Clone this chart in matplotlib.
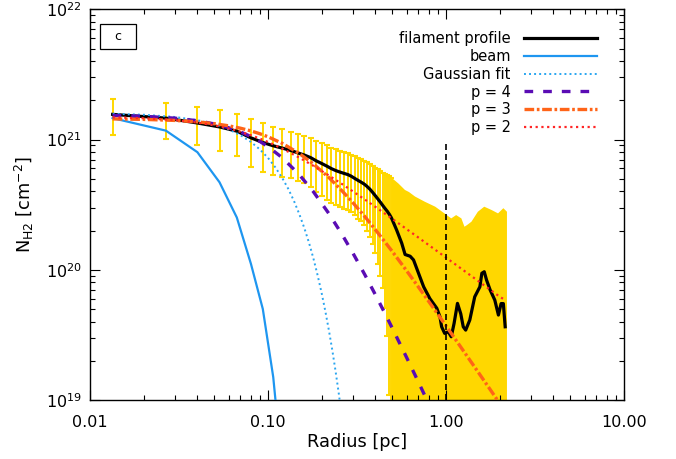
import matplotlib
matplotlib.use('Agg')
import matplotlib.pyplot as plt
import numpy as np
from matplotlib.ticker import FixedLocator, FixedFormatter, NullFormatter, LogLocator
from matplotlib.patches import Rectangle

plt.rcParams['font.family'] = ['DejaVu Sans']
plt.rcParams['mathtext.fontset'] = 'dejavusans'

E21 = 1e21
E20 = 1e20

# ---- filament profile (radius [pc], N_H2 in 1e21 cm^-2) ----
prof_r = [0.0134, 0.0267, 0.0401, 0.0534, 0.0668, 0.0802, 0.0935, 0.107, 0.120, 0.134,
          0.147, 0.160, 0.174, 0.187, 0.200, 0.214, 0.227, 0.240, 0.254, 0.267,
          0.281, 0.294, 0.307, 0.321, 0.334, 0.347, 0.361, 0.374, 0.387, 0.401,
          0.414, 0.428, 0.441, 0.454, 0.468, 0.481, 0.494,
          0.528, 0.564, 0.589, 0.629, 0.657, 0.701, 0.749, 0.812, 0.888,
          0.925, 0.945, 0.983, 1.03, 1.07, 1.11, 1.16, 1.21, 1.25, 1.29,
          1.36, 1.45, 1.55, 1.59, 1.64, 1.69, 1.77, 1.88, 1.97, 2.04, 2.10, 2.15]
prof_n = [1.56, 1.46, 1.34, 1.25, 1.16, 1.03, 0.95, 0.895, 0.86, 0.825,
          0.79, 0.76, 0.725, 0.685, 0.655, 0.625, 0.598, 0.578, 0.562, 0.550,
          0.538, 0.522, 0.503, 0.485, 0.470, 0.455, 0.435, 0.415, 0.393, 0.370,
          0.350, 0.330, 0.312, 0.296, 0.281, 0.266, 0.250,
          0.202, 0.160, 0.131, 0.127, 0.119, 0.094, 0.074, 0.060, 0.0506,
          0.0435, 0.0365, 0.0325, 0.0334, 0.0306, 0.0387, 0.0552, 0.046, 0.0365, 0.0344,
          0.0411, 0.062, 0.074, 0.094, 0.0966, 0.0834, 0.070, 0.0585, 0.0449, 0.055, 0.055, 0.0365]

# error bars (1 sigma, 1e21 cm^-2) at the first 37 profile radii
bar_sigma = [0.48, 0.45, 0.43, 0.43, 0.41, 0.41, 0.39, 0.36, 0.34, 0.32,
             0.31, 0.30, 0.295, 0.29, 0.285, 0.28, 0.27, 0.265, 0.26, 0.255,
             0.25, 0.245, 0.24, 0.24, 0.235, 0.235, 0.235, 0.235, 0.235, 0.235,
             0.24, 0.24, 0.24, 0.245, 0.25, 0.255, 0.26]

# upper envelope of the dense error bars beyond 0.5 pc (1e20 cm^-2)
band_r = [0.494, 0.54, 0.588, 0.62, 0.67, 0.76, 0.87, 0.98, 1.07, 1.14,
          1.22, 1.27, 1.31, 1.39, 1.51, 1.64, 1.80, 1.96, 2.10, 2.20]
band_hi = [5.1, 4.6, 4.1, 3.95, 3.65, 3.33, 3.05, 2.71, 2.48, 2.63,
           2.48, 2.14, 2.2, 2.34, 2.79, 3.05, 2.88, 2.71, 2.97, 2.79]

# beam (1e21)
beam_r = [0.0134, 0.0267, 0.0401, 0.0534, 0.0668, 0.0802, 0.0935, 0.107, 0.120]
beam_n = [1.46, 1.17, 0.80, 0.47, 0.252, 0.111, 0.050, 0.015, 0.003]

# model curves (1e21)
mod_r = [0.0134, 0.02, 0.03, 0.04, 0.05, 0.06, 0.07, 0.08, 0.09, 0.10,
         0.12, 0.15, 0.18, 0.22, 0.26, 0.30, 0.35, 0.40, 0.45, 0.50,
         0.60, 0.70, 0.80, 0.90, 1.00, 1.20, 1.50, 1.80, 2.00, 2.15]
gauss_r = [0.0134, 0.02, 0.03, 0.04, 0.05, 0.06, 0.07, 0.08, 0.09, 0.10,
           0.11, 0.12, 0.13, 0.14, 0.15, 0.16, 0.17, 0.18, 0.19, 0.20,
           0.21, 0.22, 0.23, 0.24, 0.25, 0.26]
gauss_n = [1.577, 1.55, 1.49, 1.41, 1.31, 1.20, 1.08, 0.96, 0.84, 0.723,
           0.611, 0.509, 0.418, 0.337, 0.267, 0.209, 0.161, 0.122, 0.0907, 0.0666,
           0.048, 0.0341, 0.0239, 0.01643, 0.01114, 0.00742]
p4_n = [1.531, 1.508, 1.459, 1.394, 1.318, 1.233, 1.145, 1.055, 0.967, 0.882,
        0.727, 0.537, 0.397, 0.2696, 0.1876, 0.1342, 0.0916, 0.0648, 0.0473, 0.03545,
        0.02128, 0.01373, 0.00933]
p3_n = [1.44, 1.428, 1.402, 1.367, 1.324, 1.275, 1.222, 1.166, 1.108, 1.05,
        0.936, 0.781, 0.649, 0.51, 0.405, 0.327, 0.256, 0.204, 0.166, 0.1378,
        0.0985, 0.0737, 0.0571, 0.0455, 0.0371, 0.02595, 0.01672, 0.01165, 0.00945, 0.0082]
p2_n = [1.48, 1.458, 1.41, 1.35, 1.285, 1.216, 1.147, 1.08, 1.017, 0.958,
        0.853, 0.726, 0.628, 0.529, 0.456, 0.40, 0.346, 0.305, 0.272, 0.2456,
        0.2055, 0.1767, 0.1548, 0.1377, 0.124, 0.1035, 0.0829, 0.0691, 0.0622, 0.0585]

vline_r = 1.0
vline_n = [1e19, 1e21]

x_ticks = [0.01, 0.1, 1.0, 10.0]
x_labels = ['0.01', '0.10', '1.00', '10.00']
legend_labels = ['filament profile', 'beam', 'Gaussian fit', 'p = 4', 'p = 3', 'p = 2']

gold = '#ffd700'
c_beam = '#1e96f0'
c_gauss = '#2aa6f0'
c_p4 = '#5a0cb4'
c_p3 = '#ff6418'
c_p2 = '#ff2626'

fig = plt.figure(figsize=(6.76, 4.59), dpi=100)
ax = fig.add_axes([90/676, 1-400/459, 534/676, 390.7/459])
ax.set_xscale('log')
ax.set_yscale('log')
ax.set_xlim(0.01, 10.0)
ax.set_ylim(1e19, 1e22)

nb = len(bar_sigma)
bar_r = np.array(prof_r[:nb])
bar_n = np.array(prof_n[:nb]) * E21
sig = np.array(bar_sigma) * E21
lo = np.minimum(sig, bar_n - 1e17)
ax.errorbar(bar_r, bar_n, yerr=[lo, sig], fmt='none', ecolor=gold,
            elinewidth=1.4, capsize=2.2, capthick=1.5, zorder=1)
ax.fill_between(band_r, 1e17, np.array(band_hi) * E20, color=gold, lw=0, zorder=1)

h1, = ax.plot(prof_r, np.array(prof_n) * E21, color='black', lw=2.3, zorder=3)
h2, = ax.plot(beam_r, np.array(beam_n) * E21, color=c_beam, lw=1.6, zorder=4)
h3, = ax.plot(gauss_r, np.array(gauss_n) * E21, color=c_gauss, lw=1.4,
              ls=(0, (1, 1.6)), zorder=4)
h4, = ax.plot(mod_r[:len(p4_n)], np.array(p4_n) * E21, color=c_p4, lw=2.4,
              ls=(0, (2.6, 3.0)), zorder=5)
h5, = ax.plot(mod_r[:len(p3_n)], np.array(p3_n) * E21, color=c_p3, lw=2.4,
              ls=(0, (2.9, 0.8, 0.8, 0.8)), zorder=6)
h6, = ax.plot(mod_r[:len(p2_n)], np.array(p2_n) * E21, color=c_p2, lw=1.6,
              ls=(0, (1, 1.6)), zorder=7)
ax.plot([vline_r, vline_r], vline_n, color='black', lw=1.2, ls=(0, (3.6, 2.4)), zorder=8)

# axes styling
for s in ax.spines.values():
    s.set_linewidth(1.0)
ax.xaxis.set_major_locator(FixedLocator(x_ticks))
ax.xaxis.set_major_formatter(FixedFormatter(x_labels))
ax.xaxis.set_minor_locator(LogLocator(base=10, subs=np.arange(2, 10)))
ax.xaxis.set_minor_formatter(NullFormatter())
ax.yaxis.set_minor_locator(LogLocator(base=10, subs=np.arange(2, 10)))
ax.yaxis.set_minor_formatter(NullFormatter())
ax.tick_params(which='both', direction='in', top=True, right=True, width=0.8)
ax.tick_params(which='major', length=7.2, labelsize=11.5, pad=6)
ax.tick_params(which='minor', length=3.6)
ax.tick_params(axis='x', which='major', pad=11)

ax.set_xlabel('Radius [pc]', fontsize=12.8)
ax.set_ylabel(r'N$_{\rm H2}$ [cm$^{-2}$]', fontsize=12.8)
ax.xaxis.set_label_coords(0.5, -0.085)
ax.yaxis.set_label_coords(-0.102, 0.5)

# panel label box
ax.add_patch(Rectangle((0.0187, 0.8976), 0.0669, 0.064, transform=ax.transAxes,
                       fill=False, ec='black', lw=0.9, zorder=9))
ax.text(0.0521, 0.9296, 'c', transform=ax.transAxes, ha='center', va='center',
        fontsize=9, zorder=9)

leg = ax.legend([h1, h2, h3, h4, h5, h6], legend_labels, loc='upper right',
                bbox_to_anchor=(0.949, 0.945), frameon=False, markerfirst=False,
                fontsize=10.5, handlelength=5.0, handletextpad=0.9,
                labelspacing=0.2, borderpad=0, borderaxespad=0)

fig.savefig('out.png', dpi=100)
